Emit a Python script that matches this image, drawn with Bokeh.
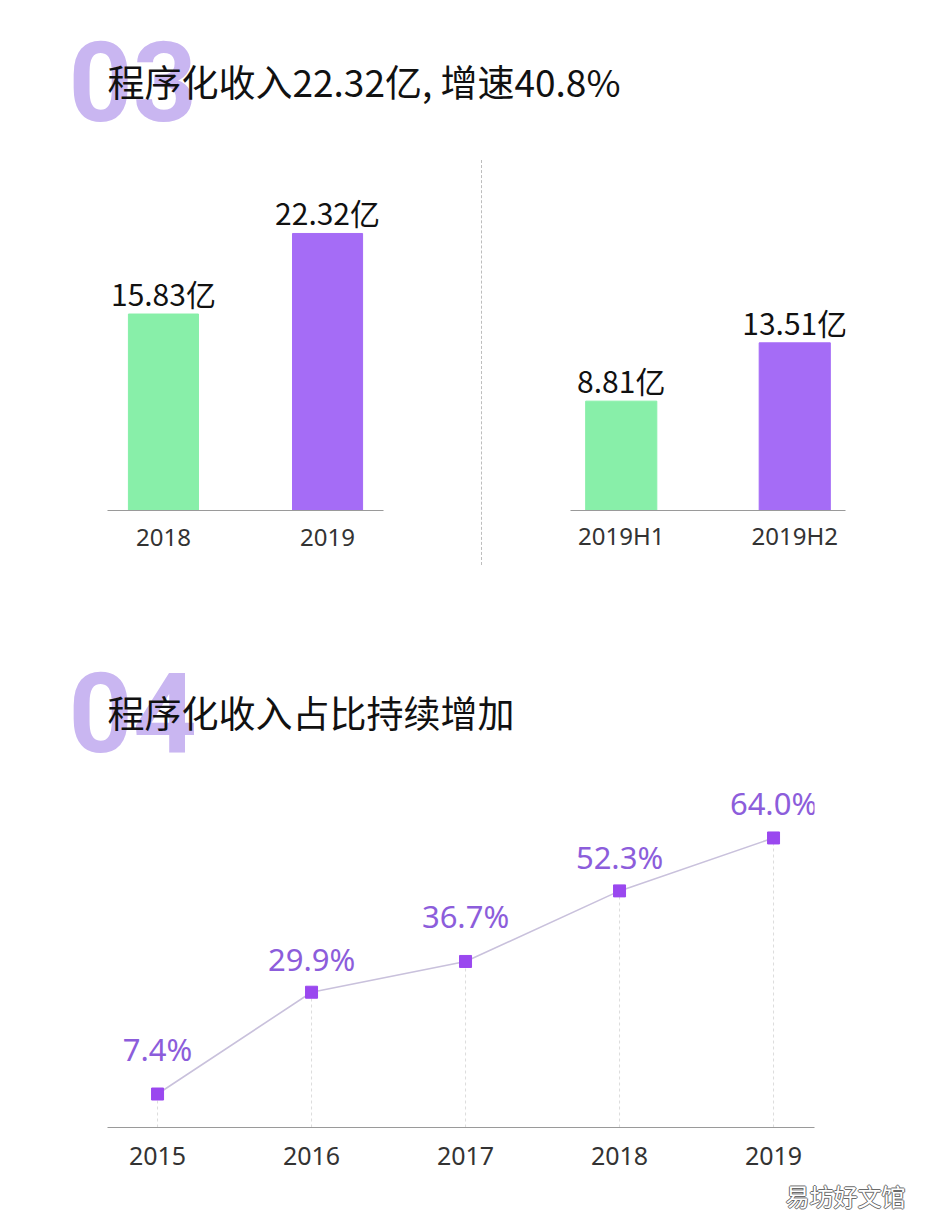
'''
Programmatic revenue: two bar panels and the share line chart
'''
from bokeh.plotting import figure
from bokeh.layouts import column, row
from bokeh.models import Range1d, ColumnDataSource, FixedTicker, Div
from bokeh.core.properties import value
from bokeh.embed import file_html
from bokeh.resources import INLINE

# datos
anual_cats = ["2018", "2019"]
anual_vals = [15.83, 22.32]
semestre_cats = ["2019H1", "2019H2"]
semestre_vals = [8.81, 13.51]
ratio_years = ["2015", "2016", "2017", "2018", "2019"]
ratio_vals = [7.4, 29.9, 36.7, 52.3, 64.0]

titulo1 = "程序化收入22.32亿, 增速40.8%"
titulo2 = "程序化收入占比持续增加"
marca = "易坊好文馆"

W = 930
CJK = "Noto Sans CJK SC"
GREEN = "#88efa9"
PURPLE = "#a56cf6"
LAVANDA = "#c9b6f1"
LABEL_PURPLE = "#8c5ddb"
MARKER = "#9a48ef"


def lienzo(w, h, **kw):
    p = figure(width=w, height=h, output_backend="svg", toolbar_location=None,
               background_fill_color="white", border_fill_color="white", **kw)
    p.grid.visible = False
    p.outline_line_color = None
    return p


def cabecera(num, texto, h, yc):
    p = lienzo(W, h, x_range=Range1d(0, W), y_range=Range1d(h, 0), min_border=0)
    p.axis.visible = False
    p.text([68], [yc], text=[num], text_font=value("Roboto"), text_font_style="bold",
           text_font_size="112px", text_color=LAVANDA, text_baseline="middle")
    p.text([107], [yc], text=[texto], text_font=value(CJK), text_font_size="37px",
           text_color="#111111", text_baseline="middle")
    return row(p)


def estilo_eje(p, cats, size="24px", standoff=18):
    ticks = list(range(len(cats)))
    p.yaxis.visible = False
    p.xaxis.ticker = FixedTicker(ticks=ticks)
    p.xaxis.major_label_overrides = {t: c for t, c in zip(ticks, cats)}
    p.xaxis.axis_line_color = "#9a9a9a"
    p.xaxis.axis_line_width = 1.2
    p.xaxis.major_tick_out = 0
    p.xaxis.major_tick_in = 0
    p.xaxis.minor_tick_line_color = None
    p.xaxis.major_label_text_font = "Noto Sans"
    p.xaxis.major_label_text_font_size = size
    p.xaxis.major_label_text_color = "#333333"
    p.xaxis.major_label_standoff = standoff


def barras(cats, vals, w, bl, br, lo, hi, bar_w, standoff):
    x = list(range(len(cats)))
    src = ColumnDataSource(dict(x=x, v=vals, color=[GREEN, PURPLE],
                                lab=[f"{v:.2f}亿" for v in vals]))
    p = lienzo(w, 430, x_range=Range1d(lo, hi), y_range=Range1d(0, 28.2),
               min_border_left=bl, min_border_right=br,
               min_border_top=10, min_border_bottom=70)
    p.vbar(x="x", top="v", width=bar_w, color="color", source=src)
    p.text(x="x", y="v", text="lab", source=src, y_offset=-21,
           text_align="center", text_baseline="middle",
           text_font=value(CJK), text_font_size="30px", text_color="#111111")
    estilo_eje(p, cats, standoff=standoff)
    return p


# cabecera 03
h1 = cabecera("03", titulo1, 150, 80)

# barras anuales y semestrales
izq = barras(anual_cats, anual_vals, 479, 107, 96, -0.341, 1.341, 0.427, 18)
sep = Div(width=4, height=430, margin=0,
          text='<div style="margin-top:10px;margin-left:2px;height:405px;'
               'border-left:1px dashed #bdbdbd;"></div>')
der = barras(semestre_cats, semestre_vals, 447, 87, 85, -0.2925, 1.2925, 0.41, 8)

# cabecera 04
h2 = cabecera("04", titulo2, 200, 131)

# linea de participacion
xs = list(range(len(ratio_years)))
lift = [45, 33, 45, 34, 35]
src = ColumnDataSource(dict(x=xs, v=ratio_vals, z=[0] * len(xs),
                            lab=[f"{v:.1f}%" for v in ratio_vals],
                            off=[-l for l in lift]))
lin = lienzo(W, 392, x_range=Range1d(-0.325, 4.266), y_range=Range1d(0, 76.7),
             min_border_left=107, min_border_right=116, min_border_top=0, min_border_bottom=45)
lin.segment(x0="x", y0="z", x1="x", y1="v", source=src, line_color="#dcdcdc",
            line_dash="3 3", line_width=1)
lin.line(x="x", y="v", source=src, line_color="#c9c1dc", line_width=1.6)
lin.scatter(x="x", y="v", source=src, marker="square", size=12, color=MARKER)
lin.text(x="x", y="v", text="lab", source=src, y_offset="off",
         text_align="center", text_baseline="middle",
         text_font=value("Noto Sans"), text_font_size="31px", text_color=LABEL_PURPLE)
estilo_eje(lin, ratio_years, "25px", 19)

# marca de agua
pie = lienzo(W, 53, x_range=Range1d(0, W), y_range=Range1d(53, 0), min_border=0)
pie.axis.visible = False
for dx, dy in [(-1, 0), (1, 0), (0, -1), (0, 1)]:
    pie.text([905], [23], text=[marca], x_offset=dx, y_offset=dy, text_align="right",
             text_baseline="middle", text_font=value(CJK), text_font_size="24px",
             text_color="#6a6a6a")
pie.text([905], [23], text=[marca], text_align="right", text_baseline="middle",
         text_font=value(CJK), text_font_size="24px", text_color="white")

lay = column(h1, row(izq, sep, der), h2, row(lin), row(pie))

open("out.html", "w").write(file_html(lay, INLINE))
